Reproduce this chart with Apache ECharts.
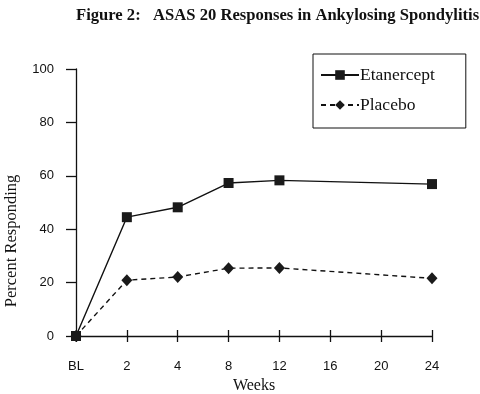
<!DOCTYPE html>
<html>
<head>
<meta charset="utf-8">
<script src="https://cdn.jsdelivr.net/npm/echarts@6/dist/echarts.min.js"></script>
<style>html,body{margin:0;padding:0;background:#fff;}#c{width:480px;height:394px;}</style>
</head>
<body>
<div id="c"></div>
<script>
const categories = ['BL', '2', '4', '8', '12', '16', '20', '24'];
const etanercept = [0, 44.5, 48.2, 57.3, 58.3, null, null, 56.9];
const placebo = [0, 20.9, 22.1, 25.4, 25.5, null, null, 21.6];
const yTicks = [0, 20, 40, 60, 80, 100];
const titleText = 'Figure 2:   ASAS 20 Responses in Ankylosing Spondylitis';

const serif = '"Liberation Serif", "Times New Roman", serif';
const sans = '"Liberation Sans", Arial, sans-serif';
const ink = '#111';

const chart = echarts.init(document.getElementById('c'), null, {renderer: 'canvas'});
chart.setOption({
  animation: false,
  backgroundColor: '#fff',
  title: {
    text: titleText,
    left: 71, top: 2,
    textStyle: {fontFamily: serif, fontWeight: 'bold', fontSize: 16.6, color: ink}
  },
  legend: {
    orient: 'vertical',
    left: 313, top: 54,
    padding: [12, 31, 14, 7],
    itemGap: 12,
    itemWidth: 38, itemHeight: 12,
    borderColor: ink, borderWidth: 1,
    textStyle: {fontFamily: serif, fontSize: 17.5, color: ink, padding: [0, 0, 0, -4]},
    data: ['Etanercept', 'Placebo']
  },
  grid: {left: 76, right: 48, top: 69, bottom: 58, containLabel: false, outerBoundsMode: 'none'},
  xAxis: [{
    type: 'category',
    data: categories,
    boundaryGap: false,
    name: 'Weeks',
    nameLocation: 'middle',
    nameGap: 42,
    nameTextStyle: {fontFamily: serif, fontSize: 16, color: ink},
    axisLine: {lineStyle: {color: ink, width: 1.3}},
    axisTick: {show: true, length: 6, lineStyle: {color: ink, width: 1.3}, alignWithLabel: true},
    axisLabel: {fontFamily: sans, fontSize: 13, color: ink, margin: 24}
  }, {
    type: 'category',
    data: categories,
    boundaryGap: false,
    position: 'bottom',
    axisLine: {show: false},
    axisTick: {show: true, inside: true, length: 6, lineStyle: {color: ink, width: 1.3}},
    axisLabel: {show: false}
  }],
  yAxis: {
    type: 'value',
    min: yTicks[0], max: yTicks[yTicks.length - 1], interval: 20,
    axisLine: {show: true, lineStyle: {color: ink, width: 1.3}},
    axisTick: {show: true, length: 10, lineStyle: {color: ink, width: 1.3}},
    axisLabel: {fontFamily: sans, fontSize: 13, color: ink, margin: 22},
    splitLine: {show: false}
  },
  graphic: [{
    type: 'text',
    x: 12, y: 241,
    rotation: Math.PI / 2,
    style: {
      text: 'Percent Responding',
      font: '16.5px ' + serif,
      fill: ink,
      textAlign: 'center',
      textVerticalAlign: 'middle'
    }
  }],
  series: [{
    name: 'Etanercept',
    type: 'line',
    data: etanercept,
    connectNulls: true,
    symbol: 'rect',
    symbolSize: 10,
    itemStyle: {color: '#1a1a1a'},
    lineStyle: {color: ink, width: 1.4, type: 'solid'}
  }, {
    name: 'Placebo',
    type: 'line',
    data: placebo,
    connectNulls: true,
    symbol: 'diamond',
    symbolSize: [11, 12],
    itemStyle: {color: '#1a1a1a'},
    lineStyle: {color: ink, width: 1.4, type: [5, 4]}
  }]
});
</script>
</body>
</html>
